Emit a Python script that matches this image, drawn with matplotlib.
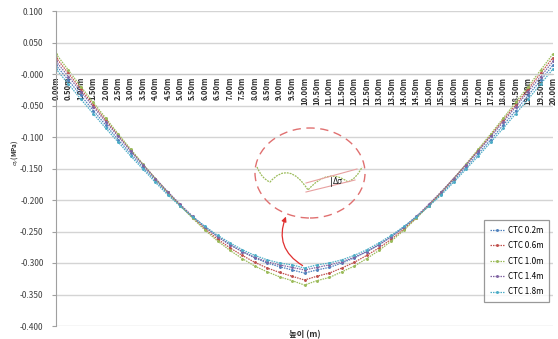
import numpy as np
import matplotlib
matplotlib.use("Agg")
import matplotlib.pyplot as plt
from matplotlib.patches import Ellipse, PathPatch
from matplotlib.path import Path

plt.rcParams['font.family'] = ['Noto Sans CJK KR', 'DejaVu Sans']

# position along the member (m), 0.5 m steps
pos = [0.0, 0.5, 1.0, 1.5, 2.0, 2.5, 3.0, 3.5, 4.0, 4.5, 5.0, 5.5, 6.0, 6.5, 7.0,
       7.5, 8.0, 8.5, 9.0, 9.5, 10.0, 10.5, 11.0, 11.5, 12.0, 12.5, 13.0, 13.5,
       14.0, 14.5, 15.0, 15.5, 16.0, 16.5, 17.0, 17.5, 18.0, 18.5, 19.0, 19.5, 20.0]
tick_labels = ["%.2fm" % p for p in pos]

ctc_02 = [0.014, -0.010, -0.034, -0.058, -0.081, -0.104, -0.126, -0.148, -0.169, -0.190,
          -0.209, -0.227, -0.243, -0.258, -0.271, -0.282, -0.292, -0.300, -0.306, -0.311,
          -0.316, -0.311, -0.307, -0.300, -0.292, -0.282, -0.271, -0.258, -0.243, -0.227,
          -0.209, -0.190, -0.169, -0.148, -0.126, -0.104, -0.081, -0.058, -0.034, -0.010, 0.014]
ctc_06 = [0.026, 0.001, -0.024, -0.049, -0.073, -0.097, -0.121, -0.144, -0.166, -0.188,
          -0.208, -0.228, -0.246, -0.262, -0.276, -0.288, -0.299, -0.308, -0.315, -0.321,
          -0.327, -0.321, -0.316, -0.308, -0.299, -0.288, -0.276, -0.262, -0.246, -0.228,
          -0.208, -0.188, -0.166, -0.144, -0.121, -0.097, -0.073, -0.049, -0.024, 0.001, 0.026]
ctc_10 = [0.032, 0.006, -0.020, -0.045, -0.070, -0.095, -0.119, -0.143, -0.166, -0.188,
          -0.209, -0.229, -0.248, -0.265, -0.280, -0.293, -0.305, -0.314, -0.322, -0.328,
          -0.335, -0.328, -0.323, -0.314, -0.305, -0.293, -0.280, -0.265, -0.248, -0.229,
          -0.209, -0.188, -0.166, -0.143, -0.119, -0.095, -0.070, -0.045, -0.020, 0.006, 0.032]
ctc_14 = [0.020, -0.004, -0.028, -0.052, -0.076, -0.099, -0.122, -0.144, -0.166, -0.187,
          -0.207, -0.226, -0.243, -0.258, -0.271, -0.282, -0.291, -0.298, -0.303, -0.307,
          -0.311, -0.307, -0.303, -0.298, -0.291, -0.282, -0.271, -0.258, -0.243, -0.226,
          -0.207, -0.187, -0.166, -0.144, -0.122, -0.099, -0.076, -0.052, -0.028, -0.004, 0.020]
ctc_18 = [0.008, -0.016, -0.040, -0.063, -0.086, -0.108, -0.130, -0.151, -0.172, -0.192,
          -0.210, -0.227, -0.242, -0.256, -0.268, -0.279, -0.288, -0.295, -0.300, -0.303,
          -0.308, -0.303, -0.300, -0.295, -0.288, -0.279, -0.268, -0.256, -0.242, -0.227,
          -0.210, -0.192, -0.172, -0.151, -0.130, -0.108, -0.086, -0.063, -0.040, -0.016, 0.008]

series = [("CTC 0.2m", ctc_02, "#4F81BD"),
          ("CTC 0.6m", ctc_06, "#C0504D"),
          ("CTC 1.0m", ctc_10, "#9BBB59"),
          ("CTC 1.4m", ctc_14, "#8064A2"),
          ("CTC 1.8m", ctc_18, "#4BACC6")]

W, H = 558, 339
fig = plt.figure(figsize=(W / 100, H / 100), dpi=100)
ax = fig.add_axes([56 / W, 1 - 326 / H, (553 - 56) / W, (326 - 11) / H])

for name, vals, col in series:
    ax.plot(pos, vals, color=col, lw=0.9, ls=(0, (1.2, 0.8)), marker='.', ms=2.2, label=name)

ax.set_xlim(0, 20)
ax.set_ylim(-0.4, 0.1)
ax.spines['bottom'].set_position(('data', 0))
ax.spines['bottom'].set_color('#c8c8c8')
ax.spines['top'].set_visible(False)
ax.spines['right'].set_visible(False)
ax.spines['left'].set_color('#a0a0a0')

ax.set_yticks(np.arange(-0.4, 0.101, 0.05))
ax.set_yticklabels(["%.3f" % v for v in np.arange(-0.4, 0.101, 0.05)])
ax.grid(axis='y', color='#d4d4d4', lw=1)
ax.set_axisbelow(True)

ax.set_xticks(pos)
ax.set_xticklabels(tick_labels, rotation=90, fontsize=5.5, fontweight='bold', color='#303030')
ax.tick_params(axis='x', length=0, pad=2)
ax.tick_params(axis='y', length=3, color='#a0a0a0', labelsize=6, labelcolor='#404040', pad=6)

fig.text(15 / W, 1 - 153 / H, r'$\sigma_y$(MPa)', rotation=90, fontsize=4.5,
         fontweight='bold', ha='center', va='center', color='#303030')
fig.text(305 / W, 1 - 335 / H, '높이 (m)', fontsize=6, fontweight='bold',
         ha='center', va='center', color='#303030')

leg = ax.legend(loc='upper left', bbox_to_anchor=(484 / W, 1 - 220 / H),
                bbox_transform=fig.transFigure, fontsize=5.8, frameon=True,
                fancybox=False, edgecolor='#808080', handlelength=1.8,
                labelspacing=0.8, borderpad=0.7, handletextpad=0.5, borderaxespad=0)
leg.get_frame().set_linewidth(0.9)

# magnified detail drawn in pixel space
def fp(x, y):
    return (x / W, 1 - y / H)

tf = fig.transFigure
ell = Ellipse(fp(310, 173), 110 / W, 90 / H, transform=tf, fill=False,
              ec='#e07070', lw=1.0, ls=(0, (6, 4)))
fig.add_artist(ell)

verts = [fp(257, 167), fp(262, 179), fp(270, 182),
         fp(289, 160), fp(308, 190),
         fp(328, 167), fp(348, 182),
         fp(357, 178), fp(362, 167)]
codes = [Path.MOVETO] + [Path.CURVE3] * 8
fig.add_artist(PathPatch(Path(verts, codes), transform=tf, fill=False,
                         ec='#9BBB59', lw=0.9, ls=(0, (1.5, 0.8))))

fig.add_artist(plt.Line2D(*zip(fp(306, 183), fp(357, 169)), transform=tf, color='#e8a0a0', lw=0.8))
fig.add_artist(plt.Line2D(*zip(fp(306, 192), fp(355, 180)), transform=tf, color='#e8a0a0', lw=0.8))
fig.add_artist(plt.Line2D(*zip(fp(331, 177), fp(331, 186)), transform=tf, color='#303030', lw=0.6))
fig.text(*fp(333, 181), 'Δσ', transform=tf, fontsize=5.5, ha='left', va='center',
         color='#202020', family=['DejaVu Sans'])

ax.annotate('', xy=fp(287, 214), xycoords='figure fraction',
            xytext=fp(305, 267), textcoords='figure fraction',
            arrowprops=dict(arrowstyle='-|>', color='#e03030', lw=0.9,
                            mutation_scale=7, connectionstyle='arc3,rad=-0.45'))

fig.savefig('out.png', dpi=100)
